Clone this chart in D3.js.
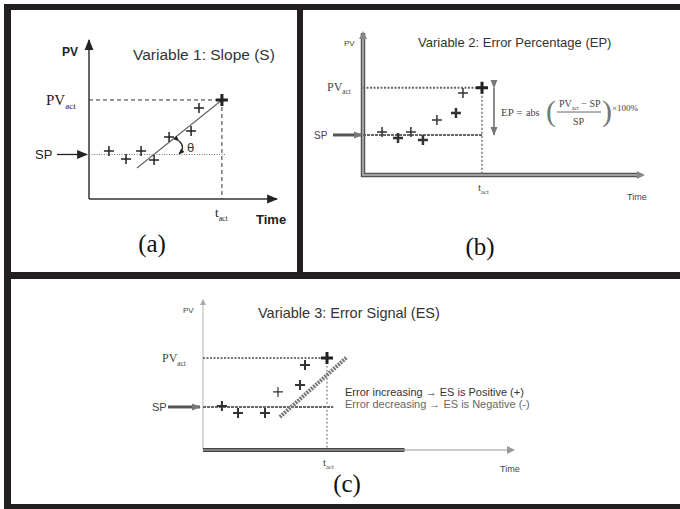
<!DOCTYPE html>
<html><head><meta charset="utf-8">
<script src="https://cdn.jsdelivr.net/npm/d3@7"></script>
<style>body{margin:0;background:#fff}svg{display:block}</style>
</head><body><svg id="c" width="680" height="509"></svg>
<script>
// ---------- data (normalised units: time 0-100, PV 0-100) ----------
const panelLabels = ["(a)", "(b)", "(c)"];
const titles = ["Variable 1: Slope (S)", "Variable 2: Error Percentage (EP)", "Variable 3: Error Signal (ES)"];
const spValue = [28, 28.2, 28.7];
const pvActValue = [62.3, 61.5, 61.3];
const tActValue = [70.7, 42.5, 40];
const timeA = [10.6, 19.7, 27.7, 34.6, 42.6, 54.3, 58.5];
const pvA   = [30.2, 25.2, 30.2, 24.5, 39.0, 42.8, 57.2];
const timeB = [6.8, 12.5, 17.1, 21.4, 26.4, 33.2, 35.7];
const pvB   = [30.3, 26.0, 30.3, 24.6, 38.7, 43.7, 57.7];
const timeC = [6.1, 11.3, 20.0, 24.2, 31.3, 32.9];
const pvC   = [29.3, 24.7, 24.7, 38.7, 43.3, 56.7];
const slopeLineA = [[25.5, 19.5], [70.7, 62.3]];
const slopeLineC = [[24.8, 22.0], [46.5, 62.0]];
const esNotes = ["Error increasing \u2192 ES is Positive (+)", "Error decreasing \u2192 ES is Negative (-)"];

const svg = d3.select("#c");
const defs = svg.append("defs");
function marker(id, color, size) {
  defs.append("marker").attr("id", id).attr("viewBox", "0 0 10 10")
    .attr("refX", 9).attr("refY", 5).attr("markerWidth", size).attr("markerHeight", size)
    .attr("markerUnits", "userSpaceOnUse").attr("orient", "auto")
    .append("path").attr("d", "M0,1 L10,5 L0,9 Z").attr("fill", color);
}
marker("arrA", "#222", 11);
marker("arrB", "#777", 9);
marker("arrS", "#222", 6);

function plus(g, x, y, r, w, color) {
  g.append("path").attr("d", `M${x - r},${y}H${x + r}M${x},${y - r}V${y + r}`)
    .attr("stroke", color).attr("stroke-width", w).attr("fill", "none");
}
function subLabel(g, x, y, main, sub, size, fam, color) {
  const t = g.append("text").attr("x", x).attr("y", y).attr("font-family", fam)
    .attr("font-size", size).attr("fill", color);
  t.append("tspan").text(main);
  t.append("tspan").attr("dy", size * 0.3).attr("font-size", size * 0.6).text(sub);
  return t;
}
const line = d3.line();

// ================= Panel (a) =================
{
  const g = svg.append("g");
  const x = d3.scaleLinear().domain([0, 100]).range([89, 277]);
  const y = d3.scaleLinear().domain([0, 100]).range([199, 40]);
  const ink = "#222";
  g.append("line").attr("x1", x(0)).attr("y1", y(0)).attr("x2", x(100)).attr("y2", y(0))
    .attr("stroke", "#333").attr("stroke-width", 1.5).attr("marker-end", "url(#arrA)");
  g.append("line").attr("x1", x(0)).attr("y1", y(0)).attr("x2", x(0)).attr("y2", y(100))
    .attr("stroke", "#333").attr("stroke-width", 1.5).attr("marker-end", "url(#arrA)");
  g.append("path").attr("d", line([[x(0), y(pvActValue[0])], [x(tActValue[0]), y(pvActValue[0])], [x(tActValue[0]), y(0)]]))
    .attr("fill", "none").attr("stroke", "#333").attr("stroke-width", 1).attr("stroke-dasharray", "4,3");
  g.append("line").attr("x1", x(0)).attr("x2", x(73)).attr("y1", y(spValue[0])).attr("y2", y(spValue[0]))
    .attr("stroke", "#777").attr("stroke-width", 1).attr("stroke-dasharray", "1,1.5");
  g.append("path").attr("d", line(slopeLineA.map(d => [x(d[0]), y(d[1])])))
    .attr("stroke", "#666").attr("stroke-width", 1.2).attr("fill", "none");
  timeA.forEach((t, i) => plus(g, x(t), y(pvA[i]), 5, 1.5, ink));
  plus(g, x(tActValue[0]), y(pvActValue[0]), 6, 3, ink);
  g.append("path").attr("d", "M179,141 Q186,147 179,154").attr("fill", "none").attr("stroke", ink)
    .attr("stroke-width", 1.2).attr("marker-end", "url(#arrS)").attr("marker-start", "url(#arrS)");
  g.append("text").attr("x", 187).attr("y", 152).attr("font-family", "Liberation Sans").attr("font-size", 13).attr("fill", "#333").text("\u03b8");
  g.append("line").attr("x1", 57).attr("x2", 87).attr("y1", y(spValue[0])).attr("y2", y(spValue[0]))
    .attr("stroke", ink).attr("stroke-width", 1.3).attr("marker-end", "url(#arrA)");
  g.append("text").attr("x", 35).attr("y", y(spValue[0]) + 4.5).attr("font-family", "Liberation Sans").attr("font-size", 13).attr("fill", ink).text("SP");
  subLabel(g, 46, y(pvActValue[0]) + 5, "PV", "act", 15, "Liberation Serif", ink);
  g.append("text").attr("x", 62).attr("y", 56).attr("font-family", "Liberation Sans").attr("font-weight", "bold").attr("font-size", 12).attr("fill", ink).text("PV");
  g.append("text").attr("x", 133).attr("y", 60).attr("font-family", "Liberation Sans").attr("font-size", 15.5).attr("fill", "#333").text(titles[0]);
  subLabel(g, 215, 217, "t", "act", 13, "Liberation Serif", ink);
  g.append("text").attr("x", 256).attr("y", 224).attr("font-family", "Liberation Sans").attr("font-weight", "bold").attr("font-size", 13).attr("fill", ink).text("Time");
  g.append("text").attr("x", 152).attr("y", 252).attr("text-anchor", "middle").attr("font-family", "Liberation Serif").attr("font-size", 25).attr("fill", "#111").text(panelLabels[0]);
}

// ================= Panel (b) =================
{
  const g = svg.append("g");
  const x = d3.scaleLinear().domain([0, 100]).range([363, 643]);
  const y = d3.scaleLinear().domain([0, 100]).range([175, 33]);
  const ink = "#444";
  const axisPath = line([[x(0), y(100)], [x(0), y(0)], [x(100) - 4, y(0)]]);
  g.append("path").attr("d", axisPath).attr("fill", "none").attr("stroke", "#555").attr("stroke-width", 4.5);
  g.append("path").attr("d", axisPath).attr("fill", "none").attr("stroke", "#bbb").attr("stroke-width", 1.5);
  g.append("path").attr("d", `M${x(100) - 6},${y(0) - 4} L${x(100) + 2},${y(0)} L${x(100) - 6},${y(0) + 4}Z`).attr("fill", "#888");
  g.append("path").attr("d", `M${x(0) - 4},${y(100) + 6} L${x(0)},${y(100) - 2} L${x(0) + 4},${y(100) + 6}Z`).attr("fill", "#888");
  g.append("line").attr("x1", x(0)).attr("x2", x(tActValue[1])).attr("y1", y(pvActValue[1])).attr("y2", y(pvActValue[1]))
    .attr("stroke", "#666").attr("stroke-width", 2).attr("stroke-dasharray", "2,1.5");
  g.append("line").attr("x1", x(0)).attr("x2", x(tActValue[1])).attr("y1", y(spValue[1])).attr("y2", y(spValue[1]))
    .attr("stroke", "#666").attr("stroke-width", 2).attr("stroke-dasharray", "3,1");
  g.append("line").attr("x1", x(tActValue[1])).attr("x2", x(tActValue[1])).attr("y1", y(pvActValue[1])).attr("y2", y(0))
    .attr("stroke", "#777").attr("stroke-width", 1.5).attr("stroke-dasharray", "2,2");
  timeB.forEach((t, i) => plus(g, x(t), y(pvB[i]), 5, i % 2 ? 2.5 : 1.5, "#333"));
  plus(g, x(tActValue[1]), y(pvActValue[1]), 6, 3, "#222");
  g.append("line").attr("x1", 494).attr("x2", 494).attr("y1", y(pvActValue[1])).attr("y2", y(spValue[1]))
    .attr("stroke", "#666").attr("stroke-width", 1.5).attr("marker-end", "url(#arrB)").attr("marker-start", "url(#arrB)");
  g.append("line").attr("x1", 333).attr("x2", x(0) - 1).attr("y1", y(spValue[1])).attr("y2", y(spValue[1]))
    .attr("stroke", "#555").attr("stroke-width", 3).attr("marker-end", "url(#arrB)");
  g.append("text").attr("x", 314).attr("y", y(spValue[1]) + 4).attr("font-family", "Liberation Sans").attr("font-size", 10).attr("fill", ink).text("SP");
  subLabel(g, 327, y(pvActValue[1]) + 3, "PV", "act", 12, "Liberation Serif", ink);
  g.append("text").attr("x", 344).attr("y", 46).attr("font-family", "Liberation Sans").attr("font-size", 8).attr("fill", ink).text("PV");
  g.append("text").attr("x", 418).attr("y", 47).attr("font-family", "Liberation Sans").attr("font-size", 13).attr("fill", "#333").text(titles[1]);
  subLabel(g, 478, 191, "t", "act", 11, "Liberation Serif", ink);
  g.append("text").attr("x", 627).attr("y", 200).attr("font-family", "Liberation Sans").attr("font-size", 9).attr("fill", ink).text("Time");
  const f = g.append("g").attr("font-family", "Liberation Serif").attr("fill", ink);
  f.append("text").attr("x", 501).attr("y", 116).attr("font-size", 11).text("EP =");
  f.append("text").attr("x", 526).attr("y", 116).attr("font-size", 10).text("abs");
  f.append("text").attr("x", 546).attr("y", 121).attr("font-size", 30).attr("fill", "#777").text("(");
  const num = subLabel(f, 559, 107, "PV", "act", 10, "Liberation Serif", ink);
  num.append("tspan").attr("dy", -3).attr("font-size", 10).text(" \u2212 SP");
  f.append("line").attr("x1", 557).attr("x2", 601).attr("y1", 112).attr("y2", 112).attr("stroke", "#666").attr("stroke-width", 1);
  f.append("text").attr("x", 573).attr("y", 125).attr("font-size", 10).text("SP");
  f.append("text").attr("x", 602).attr("y", 121).attr("font-size", 30).attr("fill", "#777").text(")");
  f.append("text").attr("x", 612).attr("y", 111).attr("font-size", 9).text("\u00d7100%");
  g.append("text").attr("x", 480).attr("y", 255).attr("text-anchor", "middle").attr("font-family", "Liberation Serif").attr("font-size", 25).attr("fill", "#111").text(panelLabels[1]);
}

// ================= Panel (c) =================
{
  const g = svg.append("g");
  const x = d3.scaleLinear().domain([0, 100]).range([203, 513]);
  const y = d3.scaleLinear().domain([0, 100]).range([450, 300]);
  const ink = "#444";
  g.append("line").attr("x1", x(0)).attr("x2", x(0)).attr("y1", y(0)).attr("y2", y(100))
    .attr("stroke", "#ccc").attr("stroke-width", 1.5);
  g.append("path").attr("d", `M${x(0) - 3},${y(100) + 5} L${x(0)},${y(100) - 1} L${x(0) + 3},${y(100) + 5}Z`).attr("fill", "#aaa");
  g.append("line").attr("x1", x(0)).attr("x2", x(100) - 3).attr("y1", y(0)).attr("y2", y(0))
    .attr("stroke", "#999").attr("stroke-width", 1.2);
  g.append("path").attr("d", `M${x(100) - 6},${y(0) - 4} L${x(100) + 2},${y(0)} L${x(100) - 6},${y(0) + 4}Z`).attr("fill", "#999");
  g.append("line").attr("x1", x(0)).attr("x2", x(65)).attr("y1", y(0)).attr("y2", y(0))
    .attr("stroke", "#444").attr("stroke-width", 4);
  g.append("line").attr("x1", x(0)).attr("x2", x(65)).attr("y1", y(0)).attr("y2", y(0))
    .attr("stroke", "#bbb").attr("stroke-width", 1.2);
  g.append("line").attr("x1", x(0)).attr("x2", x(tActValue[2])).attr("y1", y(pvActValue[2])).attr("y2", y(pvActValue[2]))
    .attr("stroke", "#777").attr("stroke-width", 2).attr("stroke-dasharray", "2,1.5");
  g.append("line").attr("x1", x(0)).attr("x2", x(42)).attr("y1", y(spValue[2])).attr("y2", y(spValue[2]))
    .attr("stroke", "#666").attr("stroke-width", 2).attr("stroke-dasharray", "3,1");
  g.append("line").attr("x1", x(tActValue[2])).attr("x2", x(tActValue[2])).attr("y1", y(pvActValue[2])).attr("y2", y(0))
    .attr("stroke", "#888").attr("stroke-width", 1.5).attr("stroke-dasharray", "1.5,2.5");
  g.append("path").attr("d", line(slopeLineC.map(d => [x(d[0]), y(d[1])])))
    .attr("stroke", "#777").attr("stroke-width", 4).attr("stroke-dasharray", "2,1").attr("fill", "none");
  timeC.forEach((t, i) => plus(g, x(t), y(pvC[i]), 5, i === 3 ? 1.2 : 2, "#333"));
  plus(g, x(tActValue[2]), y(pvActValue[2]), 6, 3, "#222");
  g.append("line").attr("x1", 168).attr("x2", x(0) - 3).attr("y1", y(spValue[2])).attr("y2", y(spValue[2]))
    .attr("stroke", "#555").attr("stroke-width", 3).attr("marker-end", "url(#arrB)");
  g.append("text").attr("x", 152).attr("y", y(spValue[2]) + 4).attr("font-family", "Liberation Sans").attr("font-size", 11).attr("fill", ink).text("SP");
  subLabel(g, 162, y(pvActValue[2]) + 4, "PV", "act", 12, "Liberation Serif", ink);
  g.append("text").attr("x", 183).attr("y", 313).attr("font-family", "Liberation Sans").attr("font-size", 8).attr("fill", ink).text("PV");
  g.append("text").attr("x", 258).attr("y", 318).attr("font-family", "Liberation Sans").attr("font-size", 14.5).attr("fill", "#333").text(titles[2]);
  esNotes.forEach((s, i) => g.append("text").attr("x", 345).attr("y", 396 + i * 12)
    .attr("font-family", "Liberation Sans").attr("font-size", 11).attr("fill", i ? "#666" : "#333").text(s));
  subLabel(g, 323, 466, "t", "act", 11, "Liberation Serif", ink);
  g.append("text").attr("x", 500).attr("y", 472).attr("font-family", "Liberation Sans").attr("font-size", 9).attr("fill", ink).text("Time");
  g.append("text").attr("x", 347).attr("y", 492).attr("text-anchor", "middle").attr("font-family", "Liberation Serif").attr("font-size", 25).attr("fill", "#111").text(panelLabels[2]);
}

// ================= frame =================
const frame = svg.append("g").attr("fill", "#231f20");
frame.append("rect").attr("x", 4).attr("y", 4).attr("width", 676).attr("height", 6);
frame.append("rect").attr("x", 4).attr("y", 4).attr("width", 7).attr("height", 505);
frame.append("rect").attr("x", 297).attr("y", 4).attr("width", 6).attr("height", 275);
frame.append("rect").attr("x", 4).attr("y", 272).attr("width", 676).attr("height", 7);
frame.append("rect").attr("x", 4).attr("y", 504).attr("width", 676).attr("height", 5);
</script></body></html>
